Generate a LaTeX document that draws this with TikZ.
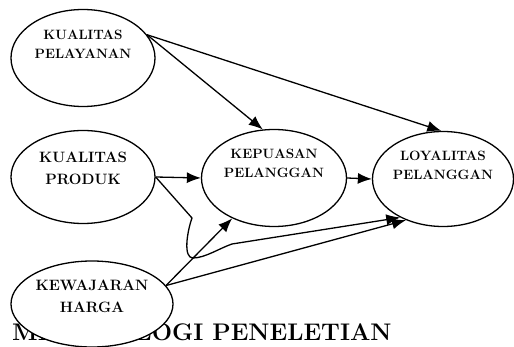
\documentclass[tikz,border=0pt]{standalone}
\usepackage{tikz}
\usetikzlibrary{shapes.geometric,arrows.meta}
\tikzset{>={Latex[length=14pt,width=11pt]}}

\begin{document}
\begin{tikzpicture}[x=1pt,y=-1pt,
                    variabel/.style={draw,ellipse,line width=1.3pt,fill=white,inner sep=0pt},
                    kecil/.style={font=\bfseries\fontsize{13.5}{19}\selectfont,align=center},
                    besar/.style={font=\bfseries\fontsize{15}{22}\selectfont,align=center},
                    panah/.style={->,line width=1.3pt},
       ]
       \useasboundingbox (0,0) rectangle (514,347);
       \node[anchor=base west,inner sep=0pt,font=\bfseries\fontsize{24}{26}\selectfont] (judul) at (12,341) {METODOLOGI PENELETIAN};
       \node[variabel,minimum width=144pt,minimum height=97pt,
             label={[kecil,yshift=14pt]center:KUALITAS\\PELAYANAN}] (pelayanan) at (83,58) {};
       \node[variabel,minimum width=144pt,minimum height=93pt,
             label={[besar,yshift=8.5pt]center:KUALITAS\\PRODUK}] (produk) at (83,177) {};
       \node[variabel,minimum width=145pt,minimum height=97pt,
             label={[kecil,yshift=14.5pt]center:KEPUASAN\\PELANGGAN}] (kepuasan) at (274,178) {};
       \node[variabel,minimum width=141pt,minimum height=95pt,
             label={[kecil,yshift=13.5pt]center:LOYALITAS\\PELANGGAN}] (loyalitas) at (443,179) {};
       \node[variabel,minimum width=162pt,minimum height=86pt,
             label={[besar,yshift=7.5pt]center:KEWAJARAN\\HARGA}] (harga) at (92,304) {};
       % jalur yang berliku dari produk
       \coordinate (tekuk) at (192,218);
       \coordinate (lembah) at (193,258);
       \coordinate (naik) at (232,244);
       \draw[panah] (pelayanan.20) -- (kepuasan.103);
       \draw[panah] (pelayanan.20) -- (loyalitas.92);
       \draw[panah] (produk.east) -- (kepuasan.west);
       \draw[panah] (kepuasan.east) -- (loyalitas.west);
       \draw[panah] (produk.east) -- (tekuk) .. controls (187,232) and (183,258) .. (lembah)
            .. controls (205,258) and (220,248) .. (naik) -- (loyalitas.222);
       \draw[panah] (harga.14) -- (kepuasan.224);
       \draw[panah] (harga.14) -- (loyalitas.228);
\end{tikzpicture}
\end{document}
